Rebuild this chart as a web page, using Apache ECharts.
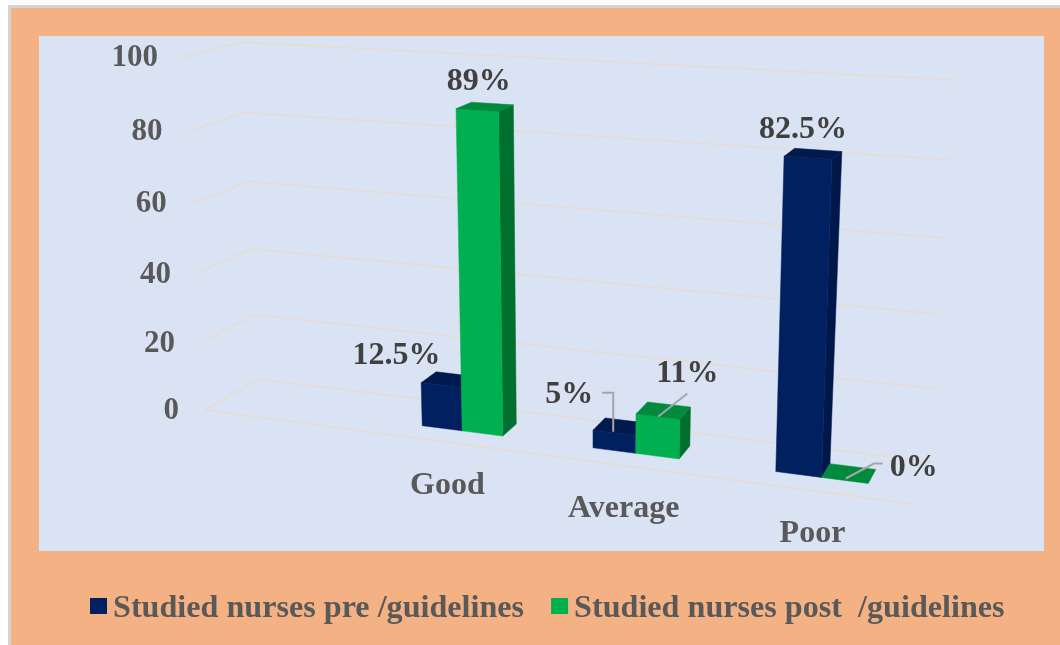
<!DOCTYPE html>
<html><head><meta charset="utf-8">
<style>html,body{margin:0;padding:0;background:#fff}#c{width:1060px;height:645px}</style>
<script src="https://cdn.jsdelivr.net/npm/echarts@6/dist/echarts.min.js"></script>
</head><body><div id="c"></div>
<script>
const categories = ['', 'Good', 'Average', 'Poor'];
const preValues = [null, 12.5, 5, 82.5];
const postValues = [null, 89, 11, 0];
const preLabels = [null, '12.5%', '5%', '82.5%'];
const postLabels = [null, '89%', '11%', '0%'];
const tickValues = [0, 20, 40, 60, 80, 100];
const preName = 'Studied nurses pre /guidelines';
const postName = 'Studied nurses post  /guidelines';

// oblique-view frame of the 3D box
const FRAME = {
  floor: {FL:[205,410], FR:[913,504], BL:[258,379], BR:[933,462]},
  top:   {FL:[184,57],  FR:[929,101],  BL:[240,42],  BR:[955,80]}
};
const KU = 0.145, KT = 0.06, W0 = 0.33, W1 = 0.67, BAR_DU = 0.06;
const SERIF = '"Liberation Serif","Times New Roman",serif';
const C = {pre:{front:'#002060',top:'#001a4e',side:'#00174a'}, post:{front:'#00B050',top:'#008a3e',side:'#00702f'}};
const LABEL_OFFSET = {
  pre:  [null, {l:[-52,-24]}, {l:[-51,-32], lead:[[-18,-34],[-7,-34],[-7,5]]}, {l:[-10,-24]}],
  post: [null, {l:[-6,-25]}, {l:[24,-37], lead:[[24,-17],[-5,6]]}, {l:[65,-6], lead:[[34,-10],[25,-10],[-3,5]]}]
};
const bil = (q,u,w,i)=>(1-u)*(1-w)*q.FL[i]+u*(1-w)*q.FR[i]+(1-u)*w*q.BL[i]+u*w*q.BR[i];
function proj(u,w,t){
  const U=u/(1+KU*(1-u)), T=t/(1+KT*(1-t));
  return [0,1].map(i=>{const a=bil(FRAME.floor,U,w,i), b=bil(FRAME.top,U,w,i);return a+(b-a)*T;});
}
function norm(api,params,cat,val){
  const p=api.coord([cat,val]), cs=params.coordSys;
  return {u:(p[0]-cs.x)/cs.width, t:(cs.y+cs.height-p[1])/cs.height};
}
const poly=(pts,fill)=>({type:'polygon',silent:true,shape:{points:pts},style:{fill,stroke:fill,lineWidth:0.5}});
const lead=(pts)=>({type:'polyline',silent:true,shape:{points:pts},style:{fill:'none',stroke:'#a6a6a6',lineWidth:2}});
const txt=(text,x,y,size,fill,align)=>({type:'text',silent:true,style:{text,x,y,fill,align:align||'center',verticalAlign:'middle',font:'bold '+size+'px '+SERIF}});

function barRenderer(key,sign,labels){
  return function(params,api){
    const cat=api.value(0), v=api.value(1);
    const {u,t}=norm(api,params,cat,v);
    const a=sign<0?u-BAR_DU:u, b=sign<0?u:u+BAR_DU;
    const c=C[key];
    const f0=proj(a,W0,0),f1=proj(b,W0,0),b1=proj(b,W1,0),
          ft0=proj(a,W0,t),ft1=proj(b,W0,t),bt0=proj(a,W1,t),bt1=proj(b,W1,t);
    const ch=[];
    if(t>0){
      ch.push(poly([f1,b1,bt1,ft1],c.side));
      ch.push(poly([f0,f1,ft1,ft0],c.front));
    }
    ch.push(poly([ft0,ft1,bt1,bt0],c.top));
    const anchor=proj((a+b)/2,(W0+W1)/2,t);
    const o=LABEL_OFFSET[key][cat];
    if(o.lead) ch.push(lead(o.lead.map(d=>[anchor[0]+d[0],anchor[1]+d[1]])));
    ch.push(txt(labels[cat],anchor[0]+o.l[0],anchor[1]+o.l[1],32,'#404040'));
    return {type:'group',children:ch};
  };
}
function gridRenderer(params,api){
  const {t}=norm(api,params,0,api.value(0));
  const ch=[{type:'polyline',silent:true,shape:{points:[proj(0,0,t),proj(0,1,t),proj(1,1,t)]},style:{fill:'none',stroke:'#e3ddd6',lineWidth:2}}];
  if(t===0) ch.push({type:'line',silent:true,shape:{x1:proj(0,0,0)[0],y1:proj(0,0,0)[1],x2:proj(1,0,0)[0],y2:proj(1,0,0)[1]},style:{stroke:'#e3ddd6',lineWidth:2}});
  const p=proj(0,0,t);
  ch.push(txt(String(api.value(0)),p[0]-26,p[1]+1,31,'#595959','right'));
  return {type:'group',children:ch};
}
function catRenderer(params,api){
  const {u}=norm(api,params,api.value(0),0);
  const p=proj(u,0,0);
  return txt(categories[api.value(0)],p[0]-1,p[1]+43,32,'#595959');
}
const toData=(arr)=>arr.map((v,i)=>[i,v]).filter(d=>d[1]!==null);
const chart=echarts.init(document.getElementById('c'),null,{renderer:'canvas'});
chart.setOption({
  animation:false,
  backgroundColor:'#ffffff',
  grid:{left:0,right:0,top:0,bottom:0,show:false},
  xAxis:{type:'category',data:categories,show:false},
  yAxis:{type:'value',min:0,max:100,interval:20,show:false},
  graphic:[
    {type:'rect',z:-10,silent:true,shape:{x:9.5,y:6.5,width:1060,height:650},style:{fill:'#F4B183',stroke:'#d4d4d4',lineWidth:3}},
    {type:'rect',z:-9,silent:true,shape:{x:39,y:36,width:1005,height:515},style:{fill:'#DAE3F3'}}
  ],
  legend:{left:90,top:593,padding:0,itemWidth:17,itemHeight:22,itemGap:27,
    icon:'path://M0 0L17 0L17 16L0 16ZM0 22L0 22Z',selectedMode:false,
    textStyle:{fontFamily:SERIF,fontWeight:'bold',fontSize:32.15,color:'#595959',padding:[0,0,0,1]},
    data:[{name:preName,itemStyle:{color:C.pre.front}},{name:postName,itemStyle:{color:C.post.front}}]},
  series:[
    {type:'custom',silent:true,z:1,coordinateSystem:'cartesian2d',data:tickValues.map(v=>[v]),encode:{y:0},renderItem:gridRenderer},
    {type:'custom',silent:true,z:1,coordinateSystem:'cartesian2d',data:[1,2,3].map(i=>[i]),encode:{x:0},renderItem:catRenderer},
    {name:preName,type:'custom',silent:true,z:3,coordinateSystem:'cartesian2d',itemStyle:{color:C.pre.front},data:toData(preValues),encode:{x:0,y:1},renderItem:barRenderer('pre',-1,preLabels)},
    {name:postName,type:'custom',silent:true,z:4,coordinateSystem:'cartesian2d',itemStyle:{color:C.post.front},data:toData(postValues),encode:{x:0,y:1},renderItem:barRenderer('post',1,postLabels)}
  ]
});
</script></body></html>
